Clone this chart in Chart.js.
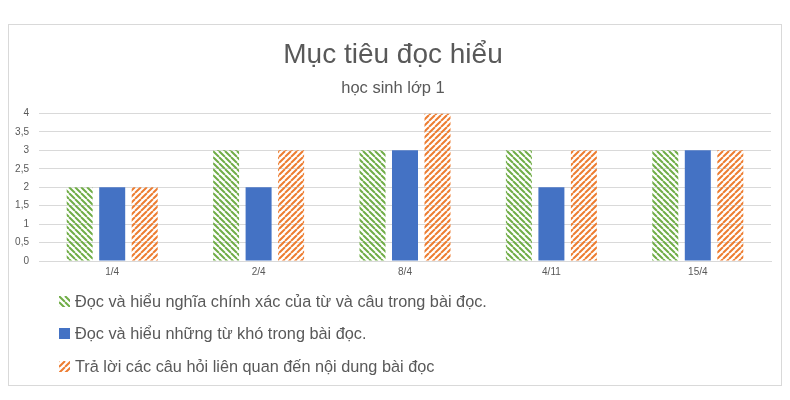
<!DOCTYPE html>
<html>
<head>
<meta charset="utf-8">
<script src="https://cdn.jsdelivr.net/npm/chart.js@4.4.1/dist/chart.umd.min.js"></script>
<style>
  body { margin: 0; background: #fff; font-family: "Liberation Sans", Arial, sans-serif; }
  #box { position: absolute; left: 8px; top: 24px; width: 772px; height: 360px; border: 1px solid #d9d9d9; }
  #wrap { position: absolute; left: 0; top: 0; width: 772px; height: 262px; }
  #legend { position: absolute; left: 50px; top: 260px; color: #595959; font-size: 16.3px; }
  .item { height: 32.5px; display: flex; align-items: center; }
  .item canvas { margin-right: 5px; }
</style>
</head>
<body>
<div id="box">
  <div id="wrap"><canvas id="chart"></canvas></div>
  <div id="legend"></div>
</div>
<script>
// chart data
const categories = ["1/4", "2/4", "8/4", "4/11", "15/4"];
const seriesNames = [
    "Đọc và hiểu nghĩa chính xác của từ và câu trong bài đọc.",
    "Đọc và hiểu những từ khó trong bài đọc.",
    "Trả lời các câu hỏi liên quan đến nội dung bài đọc"
];
const meaningValues = [2, 3, 3, 3, 3];
const hardWordValues = [2, 2, 3, 2, 3];
const answerValues = [2, 3, 4, 3, 3];

const titleText = "Mục tiêu đọc hiểu";
const subtitleText = "học sinh lớp 1";

// diagonal stripes, dir 1 = "\" , dir -1 = "/"
function makeHatch(color, dir) {
    const size = 6;
    const c = document.createElement("canvas");
    c.width = size;
    c.height = size;
    const g = c.getContext("2d");
    g.strokeStyle = color;
    g.lineWidth = 2;
    g.beginPath();
    for (let k = -1; k <= 1; k++) {
        if (dir > 0) {
            g.moveTo(k * size, 0);
            g.lineTo(k * size + size, size);
        } else {
            g.moveTo(k * size, size);
            g.lineTo(k * size + size, 0);
        }
    }
    g.stroke();
    return g.createPattern(c, "repeat");
}

const fills = [makeHatch("#70ad47", 1), "#4472c4", makeHatch("#ed7d31", -1)];

const ctx = document.getElementById("chart").getContext("2d");
const chart = new Chart(ctx, {
    type: "bar",
    data: {
        labels: categories,
        datasets: [
            { label: seriesNames[0], data: meaningValues, backgroundColor: fills[0] },
            { label: seriesNames[1], data: hardWordValues, backgroundColor: fills[1] },
            { label: seriesNames[2], data: answerValues, backgroundColor: fills[2] }
        ]
    },
    options: {
        responsive: true,
        maintainAspectRatio: false,
        animation: false,
        categoryPercentage: 0.666,
        barPercentage: 0.8,
        layout: { padding: { top: 13, left: 6, right: 10, bottom: 4 } },
        plugins: {
            legend: { display: false },
            tooltip: { enabled: false },
            title: {
                display: true,
                text: titleText,
                color: "#595959",
                font: { family: "Liberation Sans", size: 28, weight: "normal" },
                padding: { top: 0, bottom: 7 }
            },
            subtitle: {
                display: true,
                text: subtitleText,
                color: "#595959",
                font: { family: "Liberation Sans", size: 16.5, weight: "normal" },
                padding: { top: 0, bottom: 15 }
            }
        },
        scales: {
            x: {
                grid: { display: false, drawTicks: false },
                border: { color: "#d9d9d9" },
                ticks: {
                    color: "#595959",
                    font: { family: "Liberation Sans", size: 10 },
                    padding: 5
                }
            },
            y: {
                min: 0,
                max: 4,
                grid: { color: "#d9d9d9", drawTicks: false },
                border: { display: false },
                afterFit: s => { s.width = 24; },
                ticks: {
                    stepSize: 0.5,
                    color: "#595959",
                    font: { family: "Liberation Sans", size: 10 },
                    padding: 10,
                    callback: v => String(v).replace(".", ",")
                }
            }
        }
    }
});

// legend as a vertical list, built from the datasets
const legendEl = document.getElementById("legend");
chart.data.datasets.forEach((ds, i) => {
    const row = document.createElement("div");
    row.className = "item";
    const sw = document.createElement("canvas");
    sw.width = 11;
    sw.height = 11;
    const sg = sw.getContext("2d");
    sg.fillStyle = i === 0 ? makeHatch("#70ad47", 1) : i === 2 ? makeHatch("#ed7d31", -1) : fills[i];
    sg.fillRect(0, 0, 11, 11);
    const label = document.createElement("span");
    label.textContent = ds.label;
    row.appendChild(sw);
    row.appendChild(label);
    legendEl.appendChild(row);
});
</script>
</body>
</html>
